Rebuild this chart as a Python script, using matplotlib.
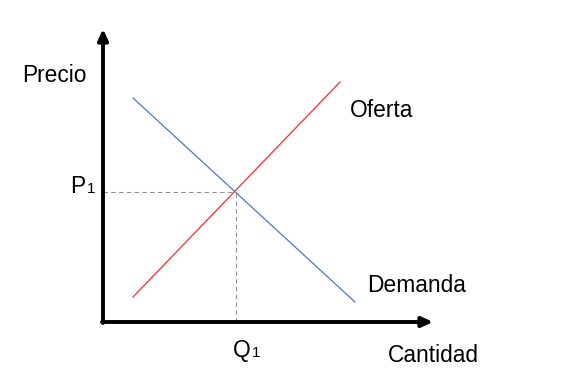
import matplotlib
matplotlib.use("Agg")
import matplotlib.pyplot as plt

plt.rcParams['font.family'] = ['Liberation Sans', 'DejaVu Sans']

# Data (quantity, price) in arbitrary units
supply_q = [3.0, 23.7]
supply_p = [2.5, 24.0]
demand_q = [3.0, 25.2]
demand_p = [22.4, 2.0]
eq_q = 13.3
eq_p = 13.0
x_axis_max = 33.0
y_axis_max = 29.3

fig = plt.figure(figsize=(5.71, 3.88), dpi=100)
ax = fig.add_axes([0, 0, 1, 1])
ax.set_xlim(-10.3, 46.8)
ax.set_ylim(-6.6, 32.2)
ax.axis('off')

# Axes arrows
arrow_style = dict(arrowstyle='-|>,head_length=6.5,head_width=3', mutation_scale=1,
                   lw=2.8, color='black', shrinkA=0, shrinkB=0)
ax.annotate('', xy=(x_axis_max, 0), xytext=(-0.1, 0), arrowprops=arrow_style)
ax.annotate('', xy=(0, y_axis_max), xytext=(0, -0.1), arrowprops=arrow_style)

# Curves
ax.plot(supply_q, supply_p, color='#ff2a2a', lw=0.9)
ax.plot(demand_q, demand_p, color='#4a78c8', lw=0.9)

# Dashed guide lines
ax.plot([0, eq_q], [eq_p, eq_p], color='#909090', lw=0.8, ls=(0, (4, 3)))
ax.plot([eq_q, eq_q], [0, eq_p], color='#909090', lw=0.8, ls=(0, (4, 3)))

fs = 16.4
ax.text(-8.1, 23.97, 'Precio', fontsize=fs, ha='left', va='baseline')
ax.text(-3.25, 12.93, 'P', fontsize=fs, ha='left', va='baseline')
ax.text(-1.6, 12.93, '1', fontsize=11, ha='left', va='baseline')
ax.text(13.0, -3.5, 'Q', fontsize=fs, ha='left', va='baseline')
ax.text(14.85, -3.5, '1', fontsize=11, ha='left', va='baseline')
ax.text(28.5, -3.97, 'Cantidad', fontsize=fs, ha='left', va='baseline')
ax.text(24.7, 20.47, 'Oferta', fontsize=fs, ha='left', va='baseline')
ax.text(26.4, 3.03, 'Demanda', fontsize=fs, ha='left', va='baseline')

fig.savefig('out.png', dpi=100)
